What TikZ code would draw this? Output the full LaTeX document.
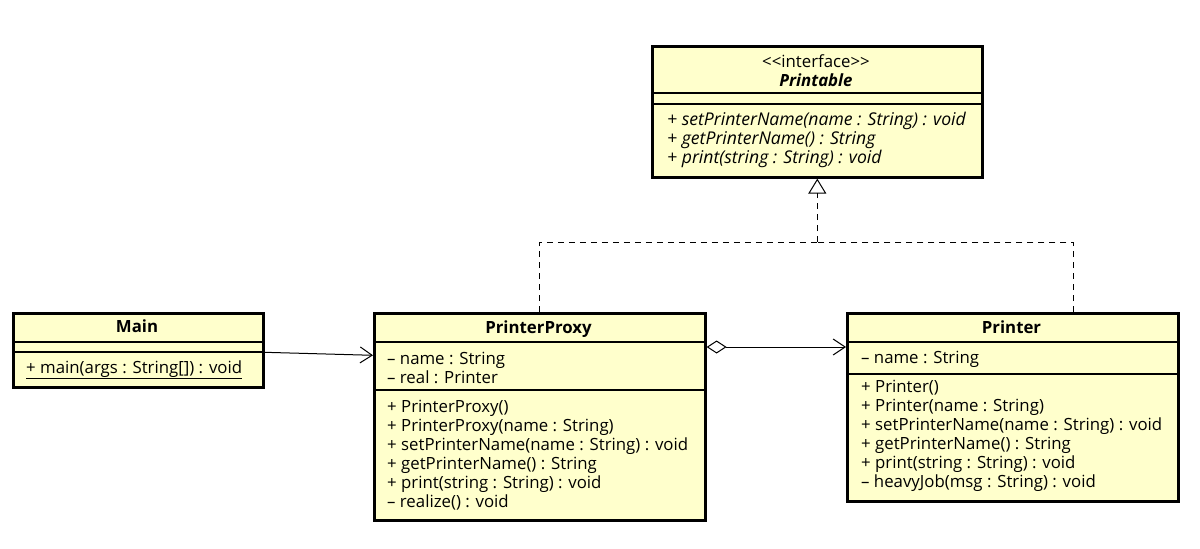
\documentclass[tikz,border=0pt]{standalone}
\usepackage{fontspec}
\setmainfont{Open Sans}
\usetikzlibrary{arrows.meta}
\definecolor{umlfill}{HTML}{FFFFCC}
\newcommand{\umlfont}{\fontsize{16.8}{19}\selectfont}
\newcommand{\umlitfont}{\fontsize{17.6}{19}\selectfont\itshape}
\begin{document}
\begin{tikzpicture}[x=1pt,y=-1pt,
  box/.style={draw=black,line width=2.6pt,fill=umlfill,anchor=north west,inner sep=0pt},
  sep/.style={line width=1.1pt},
  txt/.style={anchor=base west,inner sep=0pt,font=\umlfont},
  itx/.style={anchor=base west,inner sep=0pt,font=\umlitfont},
  ttl/.style={anchor=base,inner sep=0pt,font=\umlfont\bfseries},
  conn/.style={line width=1pt},
  realline/.style={conn,dash pattern=on 6pt off 5pt},
  barb/.style={-{Straight Barb[length=12pt,width=16pt]}}]
\useasboundingbox (0,0) rectangle (1200,549);

% Printable
\node[box,minimum width=330pt,minimum height=131pt] (printable) at (651,45) {};
\draw[sep] ([yshift=-48pt]printable.north west) -- ([yshift=-48pt]printable.north east);
\draw[sep] ([yshift=-59pt]printable.north west) -- ([yshift=-59pt]printable.north east);
\node[anchor=base,inner sep=0pt,font=\umlfont] (pst) at (816,67) {<{}<interface>{}>};
\node[anchor=base,inner sep=0pt,font=\umlfont\bfseries\itshape] (pnm) at (816,86) {Printable};
\node[itx] (pm1) at (667,125) {+ setPrinterName(name : String) : void};
\node[itx] (pm2) at (667,144) {+ getPrinterName() : String};
\node[itx] (pm3) at (667,163) {+ print(string : String) : void};

% Main
\node[box,minimum width=250pt,minimum height=74pt] (main) at (12,312) {};
\draw[sep] ([yshift=-30pt]main.north west) -- ([yshift=-30pt]main.north east);
\draw[sep] ([yshift=-40pt]main.north west) -- ([yshift=-40pt]main.north east);
\node[ttl] (mainT) at (137,332) {Main};
\node[txt] (mainM) at (26,373) {\underline{+ main(args : String[]) : void}};

% PrinterProxy
\node[box,minimum width=331pt,minimum height=207pt] (proxy) at (373,312) {};
\draw[sep] ([yshift=-30pt]proxy.north west) -- ([yshift=-30pt]proxy.north east);
\draw[sep] ([yshift=-78pt]proxy.north west) -- ([yshift=-78pt]proxy.north east);
\node[ttl] (proxyT) at (538.5,333) {PrinterProxy};
\node[txt] (xa1) at (387,364) {– name : String};
\node[txt] (xa2) at (387,383) {– real : Printer};
\node[txt] (xm1) at (387,412) {+ PrinterProxy()};
\node[txt] (xm2) at (387,431) {+ PrinterProxy(name : String)};
\node[txt] (xm3) at (387,450) {+ setPrinterName(name : String) : void};
\node[txt] (xm4) at (387,469) {+ getPrinterName() : String};
\node[txt] (xm5) at (387,488) {+ print(string : String) : void};
\node[txt] (xm6) at (387,507) {– realize() : void};

% Printer
\node[box,minimum width=331pt,minimum height=188pt] (printer) at (846,312) {};
\draw[sep] ([yshift=-30pt]printer.north west) -- ([yshift=-30pt]printer.north east);
\draw[sep] ([yshift=-62pt]printer.north west) -- ([yshift=-62pt]printer.north east);
\node[ttl] (printerT) at (1011.5,333) {Printer};
\node[txt] (ra1) at (861,363) {– name : String};
\node[txt] (rm1) at (861,392) {+ Printer()};
\node[txt] (rm2) at (861,411) {+ Printer(name : String)};
\node[txt] (rm3) at (861,430) {+ setPrinterName(name : String) : void};
\node[txt] (rm4) at (861,449) {+ getPrinterName() : String};
\node[txt] (rm5) at (861,468) {+ print(string : String) : void};
\node[txt] (rm6) at (861,487) {– heavyJob(msg : String) : void};

% connectors
\draw[conn,barb] ([yshift=-2pt]main.east) -- ([yshift=-5pt]main.east -| proxy.west);
\draw[conn,{Diamond[open,length=20pt,width=13pt]}-{Straight Barb[length=12pt,width=16pt]}]
  ([yshift=-35pt]proxy.north east) -- ([yshift=-35pt]proxy.north east -| printer.west);
\coordinate (junc) at (printable.south |- 0,242);
\draw[realline] (proxy.north) |- (junc);
\draw[realline] ([xshift=60.5pt]printer.north) |- (junc);
\draw[realline,-{Triangle[open,length=15pt,width=18pt]}] (junc) -- (printable.south);
\end{tikzpicture}
\end{document}
